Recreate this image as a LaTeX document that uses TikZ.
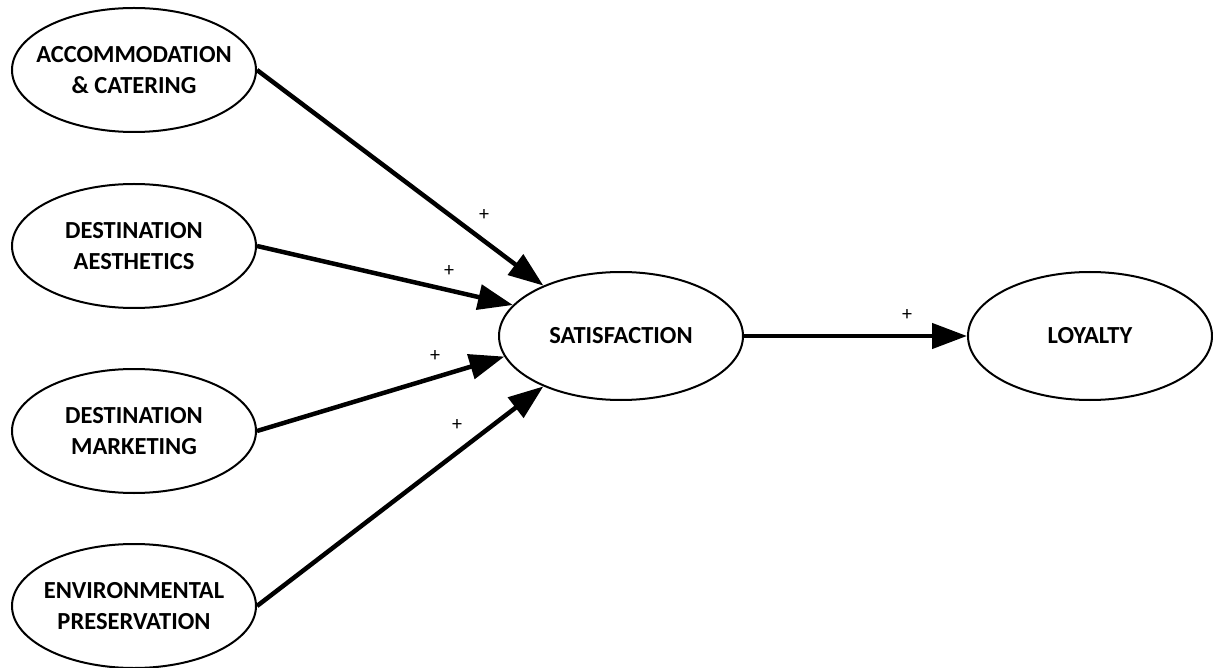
\documentclass[tikz,border=0pt]{standalone}
\usepackage{fontspec}
\setmainfont{Carlito}
\usetikzlibrary{shapes.geometric,arrows.meta}
\tikzset{
  construct/.style={ellipse, draw, line width=2pt, minimum width=244pt, minimum height=124pt, inner sep=0pt,
    label={[align=center, font=\fontsize{24.5}{31}\selectfont\bfseries, inner sep=0pt]center:#1}},
  path/.style={line width=4.5pt, -{Triangle[length=35pt,width=25pt]}},
  sign/.style={font=\fontsize{20}{22}\selectfont}
}
\begin{document}
\begin{tikzpicture}[x=1pt,y=-1pt]
\useasboundingbox (0,0) rectangle (1213,668);
\node[construct={ACCOMMODATION\\\& CATERING}] (acc) at (134,70) {};
\node[construct={DESTINATION\\AESTHETICS}] (aes) at (134,246) {};
\node[construct={DESTINATION\\MARKETING}] (mkt) at (134,431) {};
\node[construct={ENVIRONMENTAL\\PRESERVATION}] (env) at (134,606) {};
\node[construct={SATISFACTION}, minimum height=128pt] (sat) at (621,336) {};
\node[construct={LOYALTY}, minimum height=128pt] (loy) at (1090,336) {};
\draw[path] (acc.east) -- (sat.147);
\draw[path] (aes.east) -- (sat.164);
\draw[path] (mkt.east) -- (sat.190);
\draw[path] (env.east) -- (sat.213);
\draw[path] (sat.east) -- (loy.west);
\node[sign] (s1) at (484,215) {+};
\node[sign] (s2) at (449,271) {+};
\node[sign] (s3) at (435,356) {+};
\node[sign] (s4) at (457,425) {+};
\node[sign] (s5) at (907,315) {+};
\end{tikzpicture}
\end{document}
